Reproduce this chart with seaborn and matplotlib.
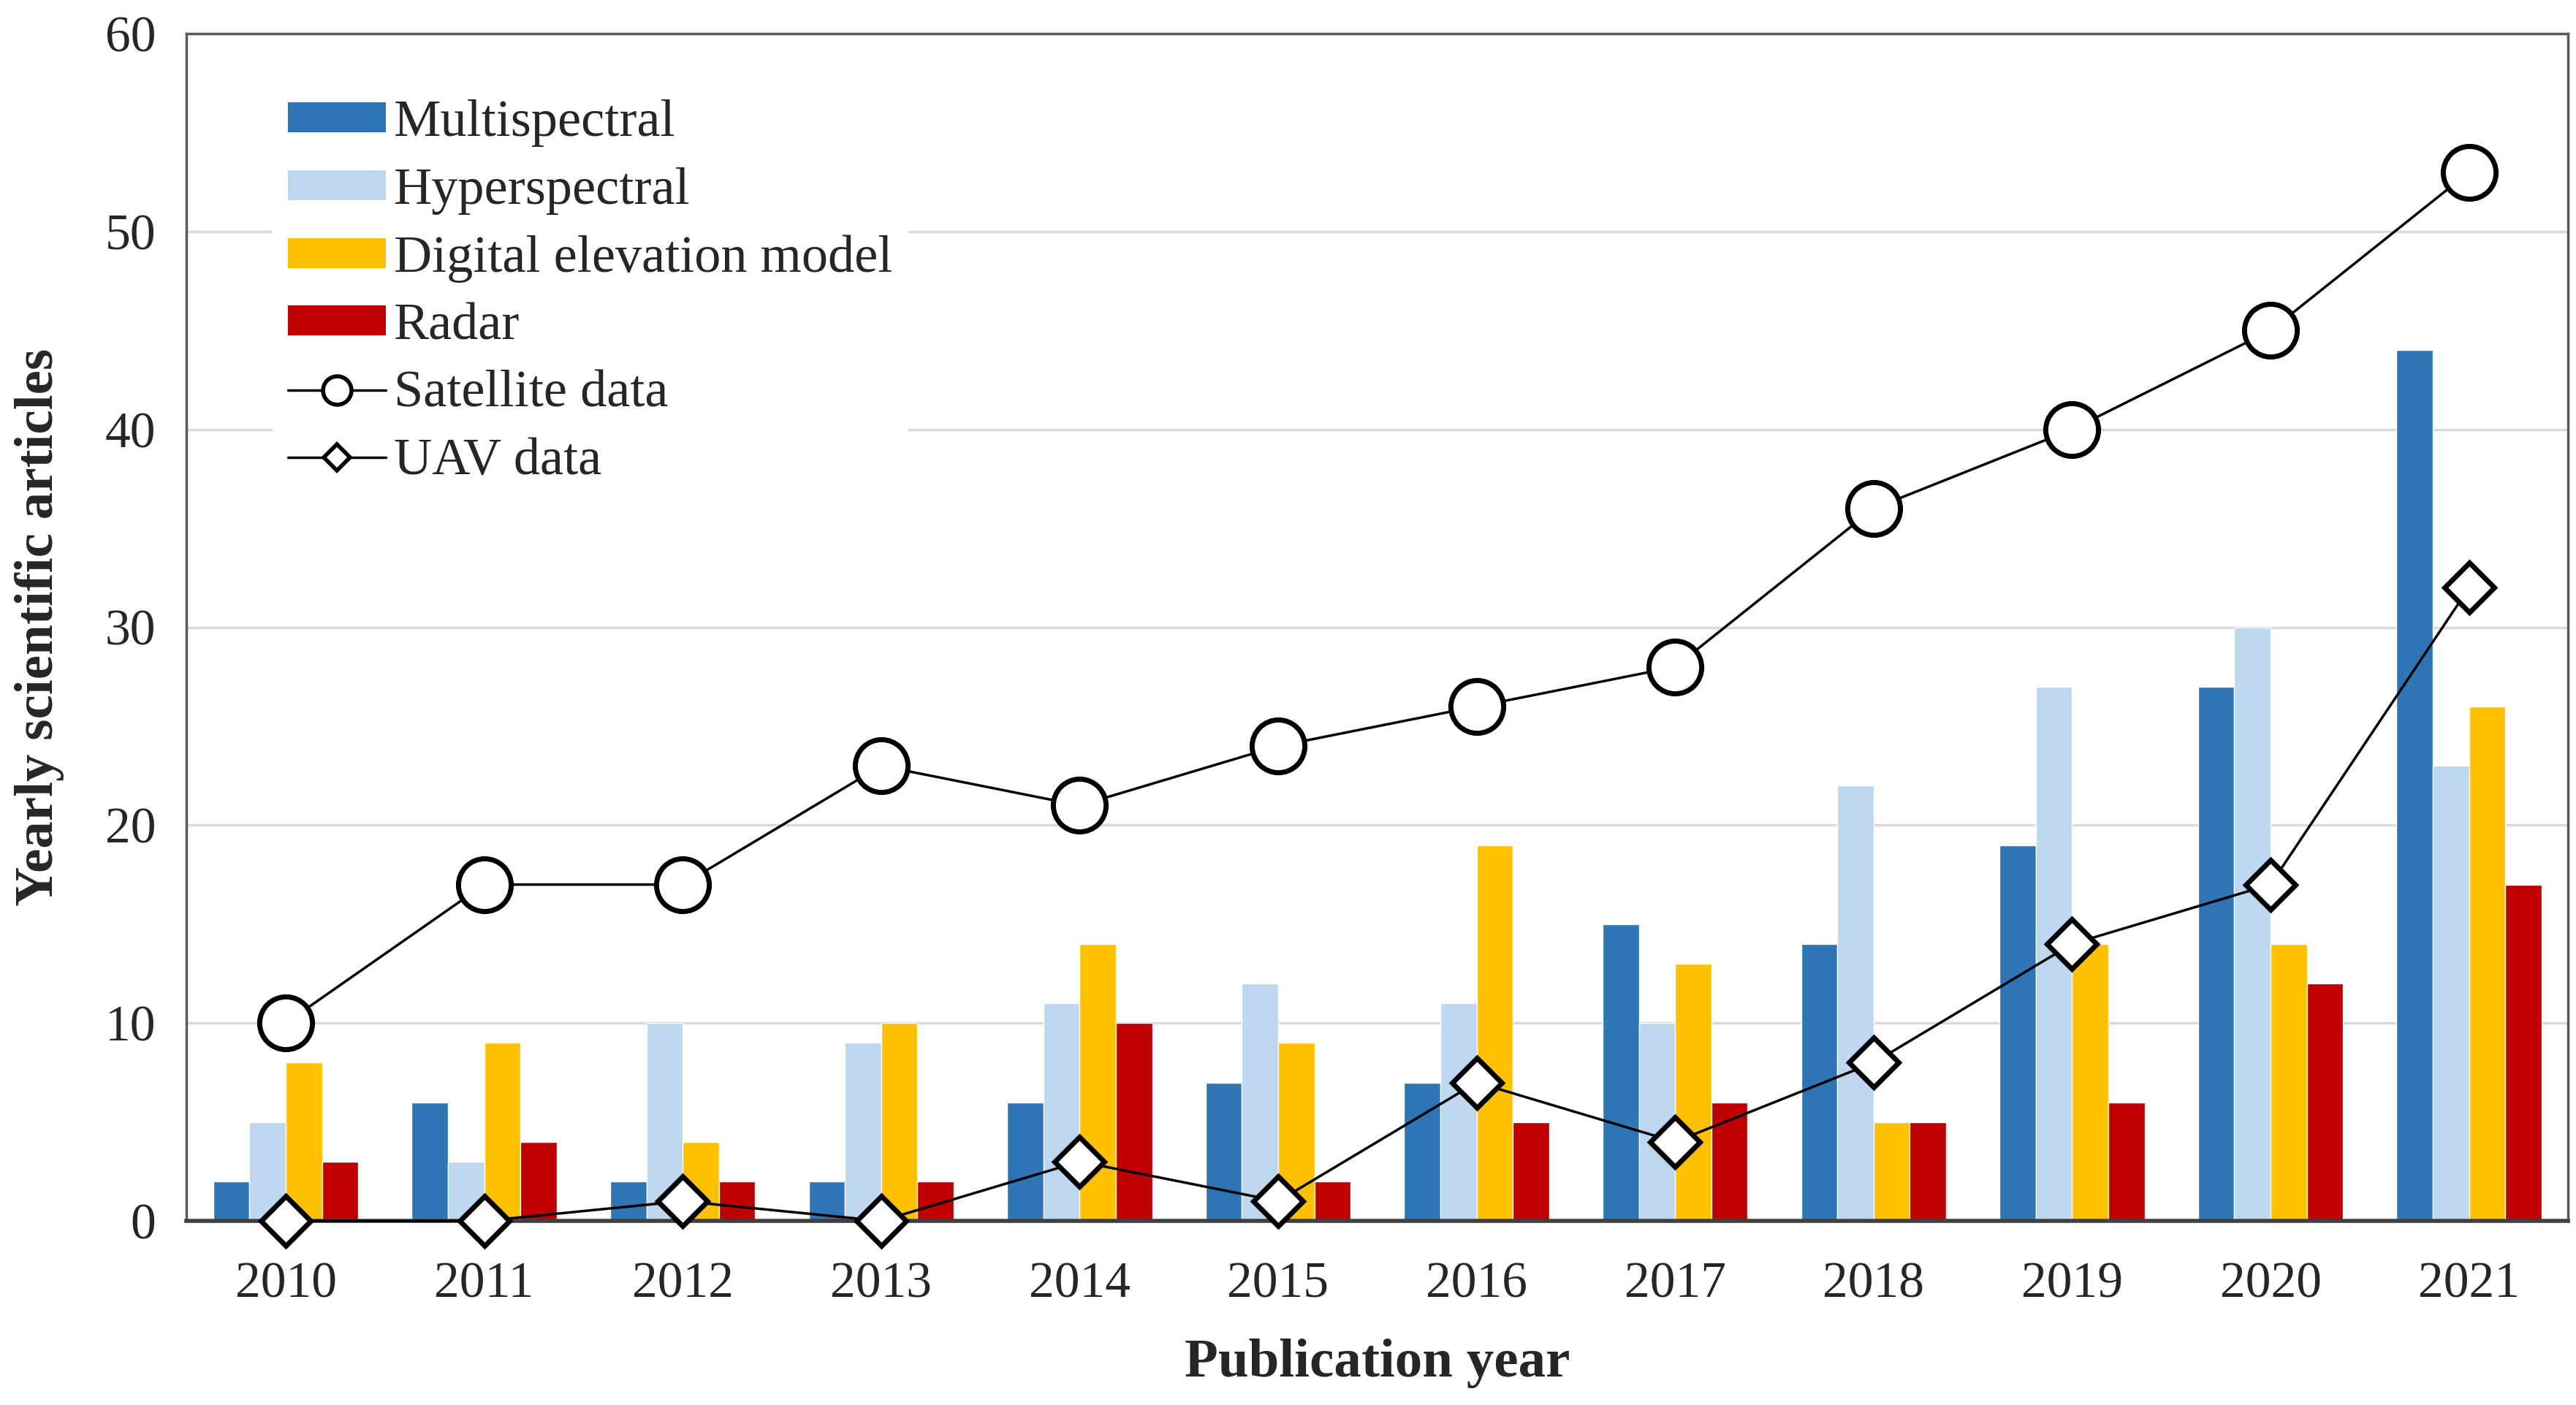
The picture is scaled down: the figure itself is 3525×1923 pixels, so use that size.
import pandas as pd
import numpy as np
import matplotlib.pyplot as plt
import seaborn as sns
from matplotlib.patches import Patch
from matplotlib.lines import Line2D

years = ['2010', '2011', '2012', '2013', '2014', '2015',
         '2016', '2017', '2018', '2019', '2020', '2021']
multispectral = [2, 6, 2, 2, 6, 7, 7, 15, 14, 19, 27, 44]
hyperspectral = [5, 3, 10, 9, 11, 12, 11, 10, 22, 27, 30, 23]
dem = [8, 9, 4, 10, 14, 9, 19, 13, 5, 14, 14, 26]
radar = [3, 4, 2, 2, 10, 2, 5, 6, 5, 6, 12, 17]
satellite = [10, 17, 17, 23, 21, 24, 26, 28, 36, 40, 45, 53]
uav = [0, 0, 1, 0, 3, 1, 7, 4, 8, 14, 17, 32]

bar_names = ['Multispectral', 'Hyperspectral', 'Digital elevation model', 'Radar']
bar_colors = ['#2E75B6', '#BDD7EE', '#FFC000', '#C00000']

# long table for seaborn
rows = []
for name, vals in zip(bar_names, [multispectral, hyperspectral, dem, radar]):
    for y, v in zip(years, vals):
        rows.append({'year': y, 'type': name, 'count': v})
df = pd.DataFrame(rows)

sns.set_style("white")
plt.rcParams['font.family'] = ['Liberation Serif', 'DejaVu Serif']

fig = plt.figure(figsize=(35.25, 19.23), dpi=100)
ax = fig.add_axes([0.0724, 0.131, 0.9246, 0.845])

ax.set_axisbelow(True)
ax.yaxis.grid(True, color='#D9D9D9', linewidth=2.5)

sns.barplot(data=df, x='year', y='count', hue='type', hue_order=bar_names,
            palette=bar_colors, saturation=1, width=0.73, gap=0,
            legend=False, ax=ax)

pos = np.arange(len(years))
ax.plot(pos, satellite, color='black', linewidth=2.5, marker='o',
        markersize=52, markerfacecolor='white', markeredgecolor='black',
        markeredgewidth=5, zorder=5, clip_on=False)
ax.plot(pos, uav, color='black', linewidth=2.5, marker='D',
        markersize=35, markerfacecolor='white', markeredgecolor='black',
        markeredgewidth=5, zorder=5, clip_on=False)

ax.set_ylim(0, 60)
ax.set_xlim(-0.5, len(years) - 0.5)
ax.set_yticks(range(0, 61, 10))
ax.tick_params(axis='y', labelsize=50, length=0, pad=30)
ax.tick_params(axis='x', labelsize=50, length=0, pad=40)

# category boundary ticks like the original
ax.set_xticks(np.arange(-0.5, len(years), 1.0), minor=True)
ax.tick_params(axis='x', which='minor', length=22, width=2.5, color='#404040', direction='out')

for side in ['left', 'top', 'right']:
    ax.spines[side].set_color('#595959')
    ax.spines[side].set_linewidth(2.5)
ax.spines['bottom'].set_color('#404040')
ax.spines['bottom'].set_linewidth(4)

ax.set_xlabel('Publication year', fontsize=54, fontweight='bold', labelpad=30)
ax.set_ylabel('Yearly scientific articles', fontsize=54, fontweight='bold', labelpad=40)

handles = [Patch(facecolor=c, edgecolor='none') for c in bar_colors]
handles.append(Line2D([0], [0], color='black', linewidth=2.5, marker='o', markersize=28,
                      markerfacecolor='white', markeredgewidth=4))
handles.append(Line2D([0], [0], color='black', linewidth=2.5, marker='D', markersize=18,
                      markerfacecolor='white', markeredgewidth=4))
labels = bar_names + ['Satellite data', 'UAV data']
leg = ax.legend(handles, labels, loc='upper left', bbox_to_anchor=(0.025, 0.98),
                fontsize=52, frameon=True, facecolor='white', edgecolor='none',
                framealpha=1, handlelength=1.85, handleheight=0.5, handletextpad=0.15,
                labelspacing=0.38, borderpad=0.3)

fig.savefig('out.png', dpi=100)
